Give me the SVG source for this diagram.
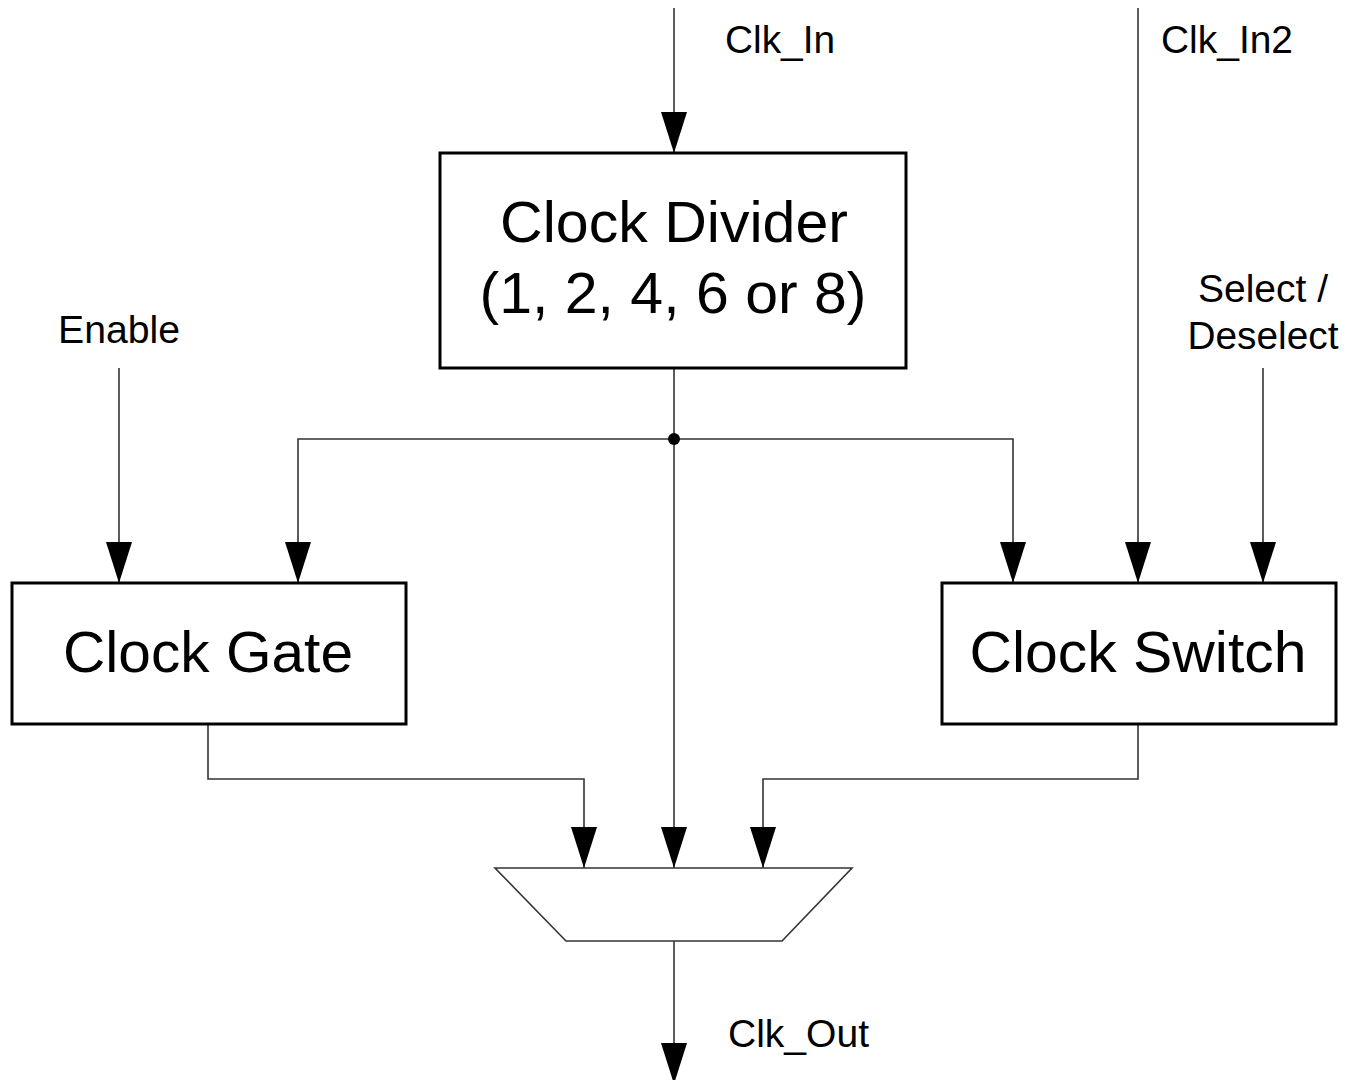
<svg xmlns="http://www.w3.org/2000/svg" width="1355" height="1080" viewBox="0 0 1355 1080">
  <style>
    .box { fill: #fff; stroke: #000; stroke-width: 3; }
    .wire { fill: none; stroke: #333; stroke-width: 1.6; }
    .big { font-family: "Liberation Sans", Arial, sans-serif; font-size: 57px; fill: #000; text-anchor: middle; }
    .lbl { font-family: "Liberation Sans", Arial, sans-serif; font-size: 38px; fill: #000; }
    .mid { text-anchor: middle; }
  </style>
  <defs>
    <marker id="arrow" markerUnits="userSpaceOnUse" markerWidth="41" markerHeight="26" viewBox="0 0 41 26" refX="41" refY="13" orient="auto">
      <path d="M0,0 L41,13 L0,26 z" fill="#000"/>
    </marker>
  </defs>

  <rect width="1355" height="1080" fill="#fff"/>

  <g id="connectors">
    <!-- external inputs -->
    <line class="wire" x1="674" y1="8" x2="674" y2="153" marker-end="url(#arrow)"/>
    <line class="wire" x1="1138" y1="8" x2="1138" y2="583" marker-end="url(#arrow)"/>
    <line class="wire" x1="119" y1="368" x2="119" y2="583" marker-end="url(#arrow)"/>
    <line class="wire" x1="1263" y1="368" x2="1263" y2="583" marker-end="url(#arrow)"/>
    <!-- divider output fan-out -->
    <line class="wire" x1="674" y1="368" x2="674" y2="868" marker-end="url(#arrow)"/>
    <polyline class="wire" points="674,439 298,439 298,583" marker-end="url(#arrow)"/>
    <polyline class="wire" points="674,439 1013,439 1013,583" marker-end="url(#arrow)"/>
    <circle cx="674" cy="439" r="6" fill="#000"/>
    <!-- gate / switch outputs into the mux -->
    <polyline class="wire" points="208,724 208,779 584,779 584,868" marker-end="url(#arrow)"/>
    <polyline class="wire" points="1138,724 1138,779 763,779 763,868" marker-end="url(#arrow)"/>
    <!-- mux output -->
    <line class="wire" x1="674" y1="941" x2="674" y2="1084" marker-end="url(#arrow)"/>
  </g>

  <g id="clock-divider">
    <rect class="box" x="440" y="153" width="466" height="215"/>
    <text class="big" x="674" y="242" textLength="348" lengthAdjust="spacingAndGlyphs">Clock Divider</text>
    <text class="big" x="673" y="313" textLength="387" lengthAdjust="spacingAndGlyphs">(1, 2, 4, 6 or 8)</text>
  </g>

  <g id="clock-gate">
    <rect class="box" x="12" y="583" width="394" height="141"/>
    <text class="big" x="208" y="672" textLength="290" lengthAdjust="spacingAndGlyphs">Clock Gate</text>
  </g>

  <g id="clock-switch">
    <rect class="box" x="942" y="583" width="394" height="141"/>
    <text class="big" x="1138" y="672" textLength="337" lengthAdjust="spacingAndGlyphs">Clock Switch</text>
  </g>

  <g id="mux">
    <polygon points="495,868 852,868 782,941 566,941" fill="#fff" stroke="#333" stroke-width="1.6"/>
  </g>

  <g id="labels">
    <text class="lbl" x="725" y="53" textLength="110" lengthAdjust="spacingAndGlyphs">Clk_In</text>
    <text class="lbl" x="1161" y="53" textLength="132" lengthAdjust="spacingAndGlyphs">Clk_In2</text>
    <text class="lbl mid" x="119" y="343" textLength="122" lengthAdjust="spacingAndGlyphs">Enable</text>
    <text class="lbl mid" x="1263" y="302" textLength="130" lengthAdjust="spacingAndGlyphs">Select /</text>
    <text class="lbl mid" x="1263" y="349" textLength="151" lengthAdjust="spacingAndGlyphs">Deselect</text>
    <text class="lbl" x="728" y="1047" textLength="141" lengthAdjust="spacingAndGlyphs">Clk_Out</text>
  </g>
</svg>
